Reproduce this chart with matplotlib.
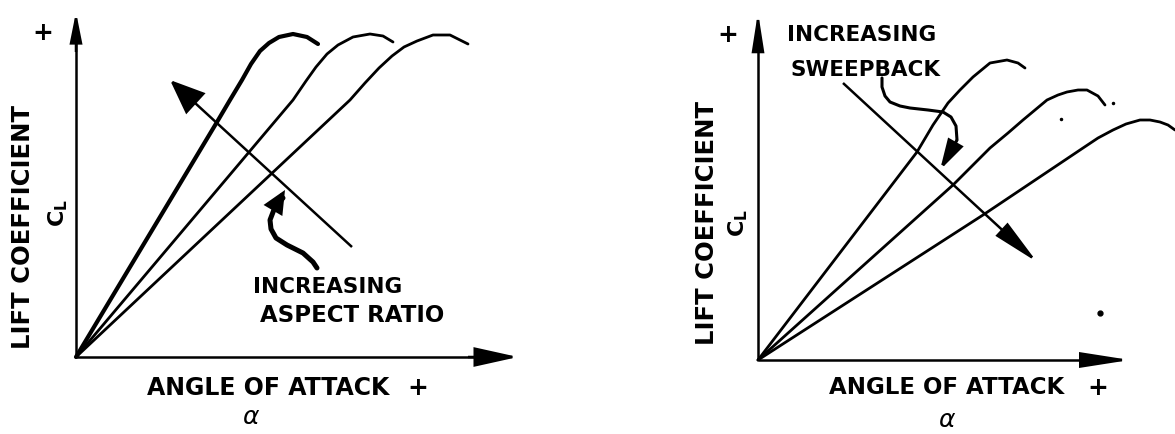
"""Lift curves: effect of aspect ratio and sweepback (schematic)"""
import numpy as np
import matplotlib.pyplot as plt

# ---- left panel: increasing aspect ratio (alpha, CL in drawing units) ----
ar_alpha = [
    [0, 141, 154, 166, 175, 184, 193, 203, 217, 231, 242],
    [0, 217, 230, 240, 251, 262, 277, 294, 307, 317],
    [0, 274, 289, 303, 316, 328, 341, 357, 374, 392],
]
ar_cl = [
    [0, 235, 257, 277, 293, 306, 314, 320, 323, 320, 313],
    [0, 257, 276, 290, 303, 312, 320, 323, 321, 315],
    [0, 257, 274, 289, 301, 310, 316, 322, 322, 313],
]
ar_widths = [3.0, 2.0, 2.0]
ar_arrow = ([276, 94], [110, 277])             # tail -> head
ar_pointer = ([241, 237, 227, 211, 200, 195, 194, 199, 207, 209],
              [89, 95, 104, 112, 119, 128, 137, 150, 159, 167])
ar_axis_len = (442, 345)

# ---- right panel: increasing sweepback ----
sw_alpha = [
    [0, 159, 175, 190, 202, 215, 232, 249, 260, 267],
    [0, 195, 232, 250, 265, 289, 300, 309, 320, 329, 340, 347],
    [0, 225, 325, 340, 355, 368, 382, 392, 402, 410, 417],
]
sw_cl = [
    [0, 208, 235, 257, 270, 283, 297, 300, 297, 292],
    [0, 175, 212, 227, 240, 260, 265, 268, 270, 270, 264, 255],
    [0, 145, 212, 222, 230, 236, 240, 240, 238, 235, 230],
]
sw_arrow = ([85, 279], [277, 98])
sw_pointer = ([124, 124, 127, 132, 142, 152, 170, 185, 193, 198, 199, 182],
              [282, 273, 264, 258, 254, 252, 250, 248, 243, 234, 220, 190])
sw_specks = ([342, 355, 303], [47, 257, 241])
sw_axis_len = (372, 348)

fig = plt.figure(figsize=(11.75, 4.34), dpi=100)


def make_axes(ox, oy):
    """Axes covering the whole figure, 1 unit = 1 pixel, origin at (ox, oy) px"""
    ax = fig.add_axes([0, 0, 1, 1])
    ax.set_xlim(-ox, 1175 - ox)
    ax.set_ylim(oy - 434, oy)
    ax.axis('off')
    ax.patch.set_alpha(0)
    return ax


def arrow(ax, tail, head, hl, hw, lw):
    ax.annotate('', xy=head, xytext=tail,
                arrowprops=dict(arrowstyle=f'-|>,head_length={hl},head_width={hw}',
                                lw=lw, color='black', shrinkA=0, shrinkB=0,
                                joinstyle='miter', capstyle='butt'))


def draw_axes(ax, xlen, ylen, xhead, yhead):
    ax.plot([0, xlen - 30], [0, 0], color='black', lw=1.8, solid_capstyle='butt')
    ax.plot([0, 0], [0, ylen - 25], color='black', lw=1.8, solid_capstyle='butt')
    arrow(ax, (xlen - 50, 0), (xlen, 0), *xhead, 1.8)
    arrow(ax, (0, ylen - 40), (0, ylen), *yhead, 1.8)


font = dict(fontfamily='DejaVu Sans', fontweight='bold', color='black')

# left
ax1 = make_axes(76, 357)
draw_axes(ax1, *ar_axis_len, (2.7, 0.6), (1.8, 0.36))
for a, c, w in zip(ar_alpha, ar_cl, ar_widths):
    ax1.plot(a, c, color='black', lw=w, solid_capstyle='round', solid_joinstyle='round')
arrow(ax1, (ar_arrow[0][0], ar_arrow[1][0]), (ar_arrow[0][1], ar_arrow[1][1]), 2.2, 0.9, 1.8)
ax1.plot(ar_pointer[0][:-1], ar_pointer[1][:-1], color='black', lw=3.6,
         solid_capstyle='round', solid_joinstyle='round')
arrow(ax1, (ar_pointer[0][-3], ar_pointer[1][-3]), (ar_pointer[0][-1], ar_pointer[1][-1]),
      1.2, 0.55, 3.0)
ax1.text(252, 70, 'INCREASING', ha='center', va='center', fontsize=15.5, **font)
ax1.text(276, 42, 'ASPECT RATIO', ha='center', va='center', fontsize=16.5, **font)
ax1.text(192, -31, 'ANGLE OF ATTACK', ha='center', va='center', fontsize=17, **font)
ax1.text(342, -31, '+', ha='center', va='center', fontsize=18, **font)
ax1.text(175, -60, r'$\alpha$', ha='center', va='center', fontsize=18, color='black')
ax1.text(-33, 324, '+', ha='center', va='center', fontsize=18, **font)
ax1.text(-53, 130, 'LIFT COEFFICIENT', ha='center', va='center', rotation=90,
         fontsize=17.5, **font)
ax1.text(-18, 144, r'$\mathbf{C_L}$', ha='center', va='center', rotation=90, fontsize=16,
         color='black')

# right
ax2 = make_axes(758, 360)
draw_axes(ax2, *sw_axis_len, (3.0, 0.47), (2.3, 0.36))
for a, c in zip(sw_alpha, sw_cl):
    ax2.plot(a, c, color='black', lw=2.0, solid_capstyle='round', solid_joinstyle='round')
arrow(ax2, (sw_arrow[0][0], sw_arrow[1][0]), (sw_arrow[0][1], sw_arrow[1][1]), 2.9, 0.54, 1.8)
ax2.plot(sw_pointer[0][:-1], sw_pointer[1][:-1], color='black', lw=2.2,
         solid_capstyle='round', solid_joinstyle='round')
arrow(ax2, (sw_pointer[0][-2], sw_pointer[1][-2]), (sw_pointer[0][-1], sw_pointer[1][-1]),
      1.8, 0.5, 2.2)
ax2.text(29, 325, 'INCREASING', ha='left', va='center', fontsize=15.5, **font)
ax2.text(32, 290, 'SWEEPBACK', ha='left', va='center', fontsize=15.5, **font)
ax2.text(189, -28, 'ANGLE OF ATTACK', ha='center', va='center', fontsize=16.5, **font)
ax2.text(340, -28, '+', ha='center', va='center', fontsize=18, **font)
ax2.text(189, -60, r'$\alpha$', ha='center', va='center', fontsize=18, color='black')
ax2.text(-30, 325, '+', ha='center', va='center', fontsize=18, **font)
ax2.text(-51, 137, 'LIFT COEFFICIENT', ha='center', va='center', rotation=90,
         fontsize=17.5, **font)
ax2.text(-20, 137, r'$\mathbf{C_L}$', ha='center', va='center', rotation=90, fontsize=16,
         color='black')
ax2.plot(sw_specks[0][:1], sw_specks[1][:1], 'o', color='black', ms=3.5)
ax2.plot(sw_specks[0][1:], sw_specks[1][1:], 'o', color='black', ms=1.5)

fig.savefig('out.png', dpi=100)
